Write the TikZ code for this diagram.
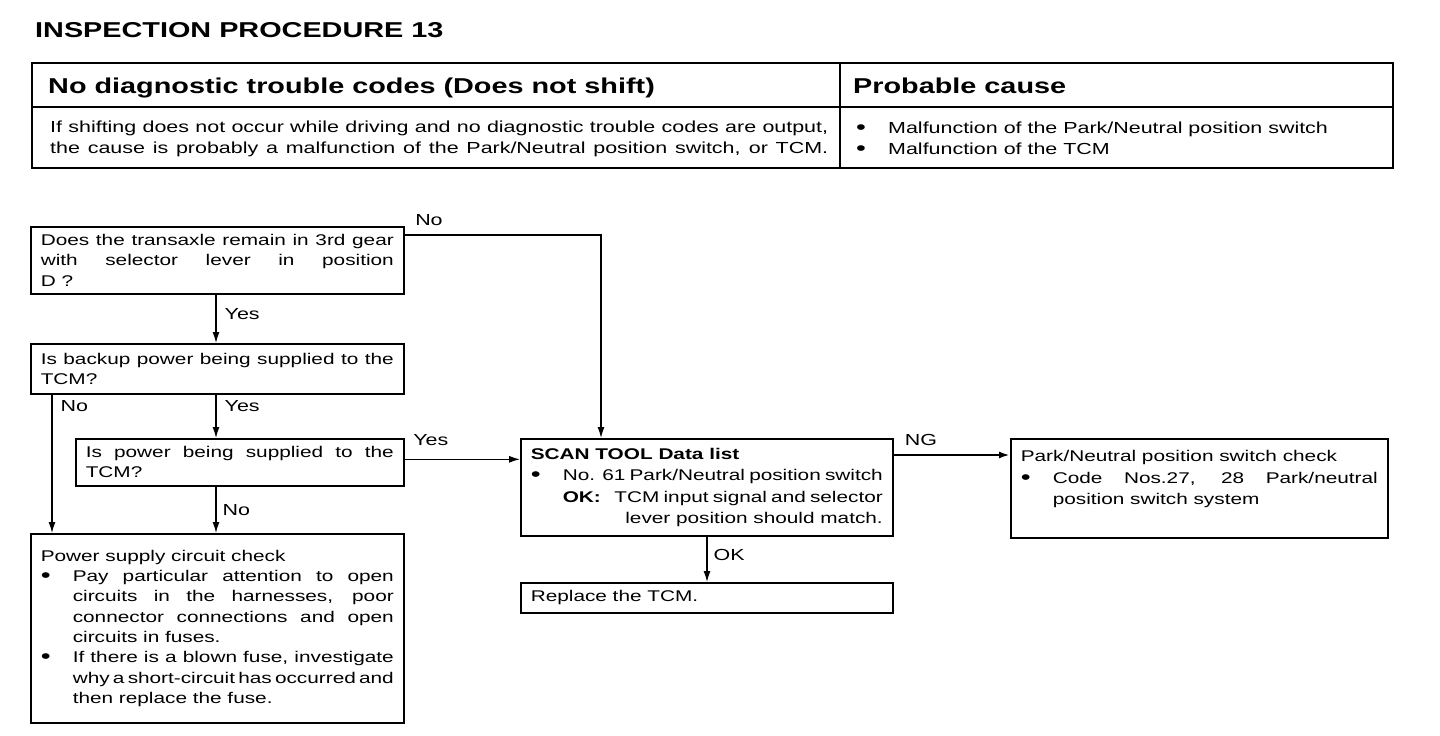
\documentclass[tikz,border=0pt]{standalone}
\usepackage{fontspec}
\setmainfont{Liberation Sans}[FakeStretch=1.34]
\usepackage{tikz}
\usetikzlibrary{arrows.meta}

\newlength{\indw}
\setlength{\indw}{32pt}
\newcommand{\sps}{\spaceskip=.37em plus .4em minus .25em\relax}
\newcommand{\bul}{\raisebox{-1pt}{\fontsize{21}{21}\selectfont\textbullet}}
\newcommand{\jfull}[1]{\makebox[\linewidth][s]{\sps #1}}
\newcommand{\jind}[2][]{\makebox[\indw][l]{#1}\makebox[\dimexpr\linewidth-\indw\relax][s]{\sps #2}}
\newcommand{\lind}[2][]{\makebox[\indw][l]{#1}#2}

\begin{document}
\begin{tikzpicture}[x=1pt, y=-1pt,
  box/.style={draw, line width=1.6pt, anchor=north west, inner xsep=10pt, inner ysep=3pt, align=justify, font=\fontsize{15.5}{20.3}\selectfont},
  tbl/.style={line width=2.2pt},
  txt/.style={inner sep=0pt, anchor=base west},
  head/.style={font=\fontsize{21.5}{26}\selectfont\bfseries},
  lbl/.style={font=\fontsize{16}{18}\selectfont, inner sep=2pt},
  flow/.style={-{Latex[length=11pt,width=7pt]}, line width=1.3pt},
  ngflow/.style={flow, line width=2.6pt}
]
  \useasboundingbox (0,0) rectangle (1440,736);

  % heading and table
  \node[txt, head] (title) at (35,37) {INSPECTION PROCEDURE 13};
  \draw[tbl] (32,63) rectangle (1393,168);
  \draw[tbl] (32,107) -- (1393,107);
  \draw[tbl] (840,63) -- (840,168);
  \node[txt, head] (symptom) at (48,93) {No diagnostic trouble codes (Does not shift)};
  \node[txt, head] (causehead) at (853,93) {Probable cause};
  \node[inner sep=0pt, anchor=west, align=left, font=\fontsize{16}{21}\selectfont] (symptomtext) at (50,139)
    {\makebox[778pt][s]{If shifting does not occur while driving and no diagnostic trouble codes are output,}\\
     \makebox[778pt][s]{the cause is probably a malfunction of the Park/Neutral position switch, or TCM.}};
  \node[inner sep=0pt, anchor=west, align=left, font=\fontsize{16}{21}\selectfont] (causes) at (856,139)
    {\lind[\bul]{Malfunction of the Park/Neutral position switch}\\
     \lind[\bul]{Malfunction of the TCM}};

  % flow chart
  \node[box, text width=353pt, minimum height=67pt] (gear3) at (30,226)
    {\jfull{Does the transaxle remain in 3rd gear}\\ \jfull{with selector lever in position}\\ D ?};
  \node[box, text width=353pt, minimum height=50pt] (backup) at (30,343)
    {\jfull{Is backup power being supplied to the}\\ TCM?};
  \node[box, text width=308pt, minimum height=47pt] (power) at (75,438)
    {\jfull{Is power being supplied to the}\\ TCM?};
  \node[box, text width=353pt, minimum height=189pt] (psu) at (30,533)
    {Power supply circuit check\\
     \jind[\bul]{Pay particular attention to open}\\
     \jind{circuits in the harnesses, poor}\\
     \jind{connector connections and open}\\
     \lind{circuits in fuses.}\\
     \jind[\bul]{If there is a blown fuse, investigate}\\
     \jind{why a short-circuit has occurred and}\\
     \lind{then replace the fuse.}};
  \node[box, text width=352pt, minimum height=97pt, font=\fontsize{15.5}{21.5}\selectfont] (scan) at (520,438)
    {\textbf{SCAN TOOL Data list}\\
     \jind[\bul]{No. 61 Park/Neutral position switch}\\
     \makebox[\linewidth][s]{\sps\hspace*{\indw}\textbf{OK:}\hspace{16pt plus 1fil minus 6pt}TCM input signal and selector}\\
     \makebox[\linewidth][r]{lever position should match.}};
  \node[box, text width=352pt, minimum height=30pt] (replace) at (520,582) {Replace the TCM.};
  \node[box, text width=357pt, minimum height=99pt, font=\fontsize{15.5}{21.5}\selectfont] (pnsw) at (1010,438)
    {Park/Neutral position switch check\\
     \jind[\bul]{Code Nos.27, 28 Park/neutral}\\
     \lind{position switch system}\\ \mbox{}};

  \draw[flow] ([yshift=-9pt]gear3.north east) -| ([xshift=81pt]scan.north west)
    node[lbl, pos=0, above right, xshift=8pt, yshift=7pt] {No};
  \draw[flow] ([xshift=186pt]gear3.south west) -- ([xshift=186pt]backup.north west)
    node[lbl, pos=0.4, right, xshift=6pt] {Yes};
  \draw[flow] ([xshift=22pt]backup.south west) -- ([xshift=22pt]psu.north west)
    node[lbl, pos=0, below right, xshift=6pt, yshift=-3pt] {No};
  \draw[flow] ([xshift=186pt]backup.south west) -- ([xshift=141pt]power.north west)
    node[lbl, pos=0, below right, xshift=6pt, yshift=-3pt] {Yes};
  \draw[flow] ([xshift=141pt]power.south west) -- ([xshift=186pt]psu.north west)
    node[lbl, midway, right, xshift=4pt] {No};
  \draw[flow] ([yshift=3pt]power.east) -- ([yshift=3pt]power.east -| scan.west)
    node[lbl, pos=0, above right, xshift=6pt, yshift=11pt] {Yes};
  \draw[ngflow] ([yshift=-17pt]scan.north east) -- ([yshift=-17pt]pnsw.north west)
    node[lbl, pos=0, above right, xshift=8pt, yshift=6pt] {NG};
  \draw[flow] ([xshift=187pt]scan.south west) -- ([xshift=187pt]replace.north west)
    node[lbl, pos=0.4, right, xshift=4pt] {OK};
\end{tikzpicture}
\end{document}
